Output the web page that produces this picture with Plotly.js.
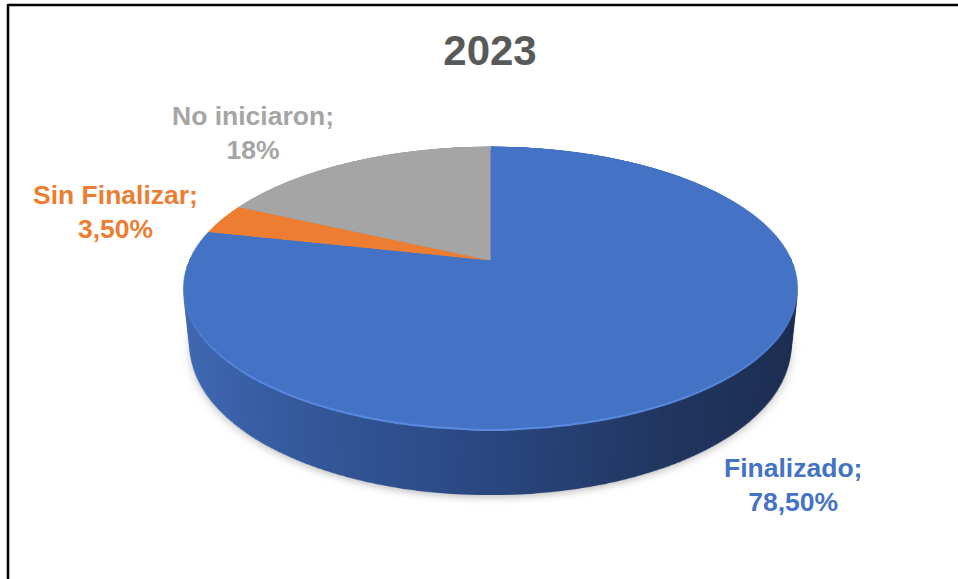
<!DOCTYPE html>
<html>
<head>
<meta charset="utf-8">
<script src="https://cdn.plot.ly/plotly-3.0.1.min.js"></script>
<style>
  html, body { margin: 0; padding: 0; background: #ffffff; }
  #stage { position: relative; width: 958px; height: 579px; overflow: hidden; background: #ffffff; }
  .layer { position: absolute; }
</style>
</head>
<body>
<div id="stage"></div>
<script>
// ---- data ----
const categories = ['Finalizado', 'Sin Finalizar', 'No iniciaron'];
const values = [78.5, 3.5, 18];
const valueLabels = ['78,50%', '3,50%', '18%'];
const topColors = ['#4472C4', '#ED7D31', '#A5A5A5'];
const chartTitle = '2023';

// ---- geometry / style ----
const W = 958, H = 579;
const APEX_X = 490, APEX_Y = 260;   // screen position of the pie centre
const SIZE = 603;                     // flat pie diameter (px)
const PERSP = 1408;                   // perspective distance (px)
const TILT = 63.2;                    // rotateX angle (deg)
const DEPTH = 66, STEP = 2;           // thickness of the 3-D pie
const labelFont = { family: 'Liberation Sans, Arial, sans-serif', size: 26.5 };
const annPos = [ { x: 793, y: 485 }, { x: 115, y: 212 }, { x: 253, y: 133 } ];

const stage = document.getElementById('stage');

// ---- base plot: frame, title, labels ----
const baseDiv = document.createElement('div');
baseDiv.className = 'layer';
baseDiv.style.left = '0px'; baseDiv.style.top = '0px';
stage.appendChild(baseDiv);

const annotations = categories.map((c, i) => ({
  xref: 'paper', yref: 'paper',
  x: annPos[i].x / W, y: 1 - annPos[i].y / H,
  xanchor: 'center', yanchor: 'middle', align: 'center', showarrow: false,
  text: '<b>' + c + ';<br>' + valueLabels[i] + '</b>',
  font: Object.assign({}, labelFont, { color: topColors[i] })
}));

Plotly.newPlot(baseDiv, [], {
  width: W, height: H,
  margin: { l: 0, r: 0, t: 0, b: 0 },
  paper_bgcolor: '#ffffff', plot_bgcolor: 'rgba(0,0,0,0)',
  xaxis: { visible: false }, yaxis: { visible: false },
  title: {
    text: '<b>' + chartTitle + '</b>',
    font: { family: 'Liberation Sans, Arial, sans-serif', size: 42, color: '#595959' },
    x: APEX_X / W, xanchor: 'center', xref: 'paper',
    y: 1 - 50 / H, yanchor: 'middle', yref: 'container'
  },
  annotations: annotations,
  shapes: [
    { type: 'line', xref: 'paper', yref: 'paper', x0: 8 / W, x1: 8 / W, y0: 0, y1: 1 - 4 / H,
      line: { color: '#000000', width: 2.5 } },
    { type: 'line', xref: 'paper', yref: 'paper', x0: 8 / W, x1: 1, y0: 1 - 5 / H, y1: 1 - 5 / H,
      line: { color: '#000000', width: 2.5 } }
  ]
}, { staticPlot: true, displayModeBar: false });

// ---- pie layers (deepest first) ----
const layers = [];
layers.push({ k: DEPTH + 3, kind: 'shadow' });
for (let k = DEPTH; k >= 2; k -= STEP) layers.push({ k: k, kind: k <= 3 ? 'hl' : 'side' });
layers.push({ k: 0, kind: 'top' });

const gradStops = [[0, '#4069b6'], [0.25, '#33579a'], [0.5, '#2a4680'], [0.75, '#20355f'], [1, '#1b2b4e']];
const svgNS = 'http://www.w3.org/2000/svg';

layers.forEach(function (L, idx) {
  const div = document.createElement('div');
  div.className = 'layer';
  div.style.width = SIZE + 'px'; div.style.height = SIZE + 'px';
  div.style.left = (APEX_X - SIZE / 2) + 'px';
  div.style.top = (APEX_Y - SIZE / 2) + 'px';
  div.style.transformOrigin = '50% 50%';
  div.style.transform = 'perspective(' + PERSP + 'px) rotateX(' + TILT + 'deg) translateZ(' + (-L.k) + 'px)';
  if (L.kind === 'shadow') { div.style.filter = 'blur(5px)'; div.style.opacity = '0.22'; }
  stage.appendChild(div);

  let colors = topColors;
  if (L.kind === 'shadow') colors = ['#000000', '#000000', '#000000'];
  else if (L.kind === 'hl') colors = ['#5a8be0', '#5a8be0', '#5a8be0'];
  else if (L.kind === 'side') colors = ['#2a4680', '#2a4680', '#2a4680'];

  Plotly.newPlot(div, [{
    type: 'pie', labels: categories, values: values, sort: false,
    direction: 'clockwise', rotation: 0, textinfo: 'none', hoverinfo: 'none',
    showlegend: false, domain: { x: [0, 1], y: [0, 1] },
    marker: { colors: colors, line: { width: 0 } }
  }], {
    width: SIZE, height: SIZE,
    margin: { l: 0, r: 0, t: 0, b: 0 },
    paper_bgcolor: 'rgba(0,0,0,0)', plot_bgcolor: 'rgba(0,0,0,0)'
  }, { staticPlot: true, displayModeBar: false }).then(function () {
    if (L.kind !== 'side') return;
    const svg = div.querySelector('.main-svg');
    let defs = svg.querySelector('defs');
    if (!defs) { defs = document.createElementNS(svgNS, 'defs'); svg.insertBefore(defs, svg.firstChild); }
    const gid = 'sideGrad' + idx;
    const grad = document.createElementNS(svgNS, 'linearGradient');
    grad.setAttribute('id', gid);
    grad.setAttribute('gradientUnits', 'userSpaceOnUse');
    grad.setAttribute('x1', 0); grad.setAttribute('x2', SIZE);
    grad.setAttribute('y1', 0); grad.setAttribute('y2', 0);
    gradStops.forEach(function (s) {
      const st = document.createElementNS(svgNS, 'stop');
      st.setAttribute('offset', s[0]); st.setAttribute('stop-color', s[1]);
      grad.appendChild(st);
    });
    defs.appendChild(grad);
    div.querySelectorAll('.pielayer path.surface').forEach(function (p) {
      p.style.fill = 'url(#' + gid + ')';
    });
  });
});
</script>
</body>
</html>
